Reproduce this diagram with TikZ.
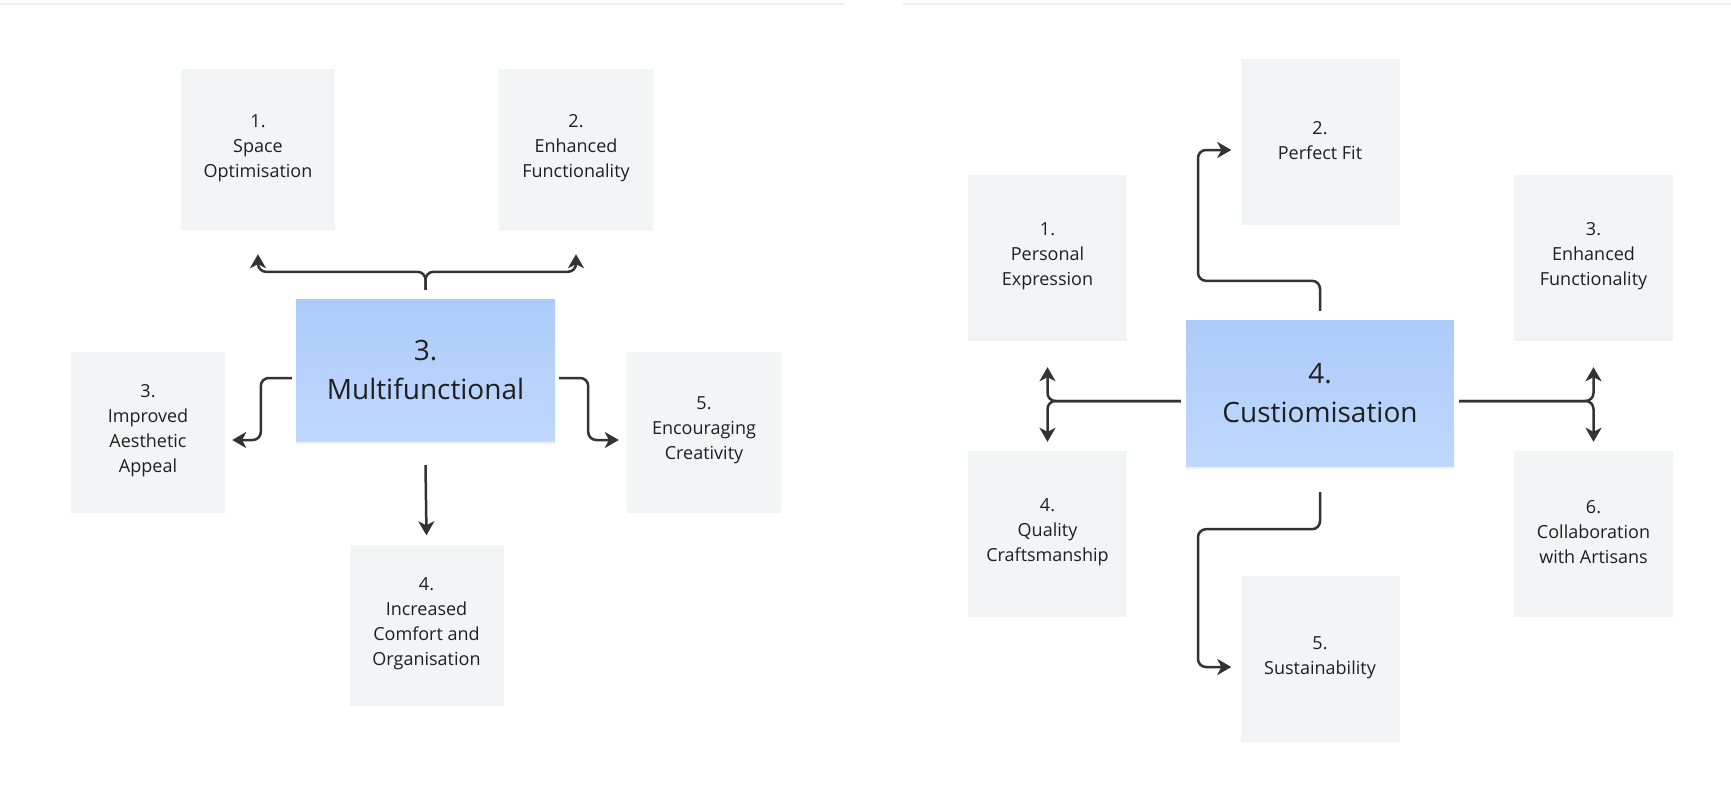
\documentclass[tikz,border=0pt]{standalone}
\usepackage{fontspec}
\setmainfont{Open Sans}
\usetikzlibrary{arrows.meta,shadows}
\definecolor{cardfill}{HTML}{F3F4F6}
\definecolor{hubtop}{HTML}{ADCBFA}
\definecolor{hubbot}{HTML}{BFD8FD}
\definecolor{ink}{HTML}{1F1F1F}
\definecolor{linecol}{HTML}{333333}
\definecolor{edgecol}{HTML}{EEEEEE}
\tikzset{
  card/.style={fill=cardfill, inner sep=0pt, align=center, text=ink,
    minimum width=154pt, minimum height=158pt,
    font=\fontsize{18}{25}\selectfont,
    drop shadow={shadow xshift=0pt, shadow yshift=-3pt, opacity=0.10}},
  bigcard/.style={card, minimum width=159pt, minimum height=163pt},
  hub/.style={top color=hubtop, bottom color=hubbot, inner sep=0pt, align=center,
    text=ink, font=\fontsize{28}{39}\selectfont,
    drop shadow={shadow xshift=0pt, shadow yshift=-3pt, opacity=0.10}},
  conn/.style={draw=linecol, line width=2.5pt, rounded corners=8pt,
    -{Stealth[length=14pt,width=16pt,inset=4pt]}}
}
\begin{document}
\begin{tikzpicture}[x=1pt,y=-1pt]
\useasboundingbox[fill=white] (0,0) rectangle (1731,784);
% panel edges
\draw[edgecol, line width=1.5pt] (0,4) -- (844,4) (903,4) -- (1731,4);

% left panel: multifunctional
\node[hub, minimum width=259pt, minimum height=142pt] (mf) at (425.5,370) {3.\\Multifunctional};
\node[card] (so) at (258,148) {1.\\Space\\Optimisation};
\node[card] (ef) at (576,148) {2.\\Enhanced\\Functionality};
\node[card] (ia) at (148,430.5) {3.\\Improved\\Aesthetic\\Appeal};
\node[card] (ec) at (704,430.5) {5.\\Encouraging\\Creativity};
\node[card] (ic) at (426.5,623.5) {4.\\Increased\\Comfort and\\Organisation};

\draw[conn] ([yshift=9pt]mf.north) -- ++(0,-18) -| ([yshift=-27pt]so.south);
\draw[conn] ([yshift=9pt]mf.north) -- ++(0,-18) -| ([yshift=-27pt]ef.south);
\draw[conn] ([shift={(-4,8)}]mf.west) -- ++(-31,0) |- ([shift={(7,9.5)}]ia.east);
\draw[conn] ([shift={(4,8)}]mf.east) -- ++(29,0) |- ([shift={(-8,9.5)}]ec.west);
\draw[conn] ([yshift=-24pt]mf.south) -- ([yshift=9pt]ic.north);

% right panel: customisation
\node[hub, minimum width=268pt, minimum height=146pt] (cu) at (1320,393) {4.\\Custiomisation};
\node[bigcard] (pe) at (1047.5,256.5) {1.\\Personal\\Expression};
\node[bigcard] (pf) at (1320,140.5) {2.\\Perfect Fit};
\node[bigcard] (fu) at (1593.5,256.5) {3.\\Enhanced\\Functionality};
\node[bigcard] (qc) at (1047.5,532.5) {4.\\Quality\\Craftsmanship};
\node[bigcard] (su) at (1320,657.5) {5.\\Sustainability};
\node[bigcard] (ca) at (1593.5,532.5) {6.\\Collaboration\\with Artisans};

\draw[conn] ([yshift=9pt]cu.north) -- ++(0,-30) -- ++(-122,0) |- ([shift={(-9,9.5)}]pf.west);
\draw[conn] ([yshift=-26pt]cu.south) -- ++(0,37) -- ++(-122,0) |- ([shift={(-9,9.5)}]su.west);
\draw[conn] ([shift={(-5,8)}]cu.west) -| ([yshift=-29pt]pe.south);
\draw[conn] ([shift={(-5,8)}]cu.west) -| ([yshift=9pt]qc.north);
\draw[conn] ([shift={(5,8)}]cu.east) -| ([yshift=-29pt]fu.south);
\draw[conn] ([shift={(5,8)}]cu.east) -| ([yshift=9pt]ca.north);
\end{tikzpicture}
\end{document}
